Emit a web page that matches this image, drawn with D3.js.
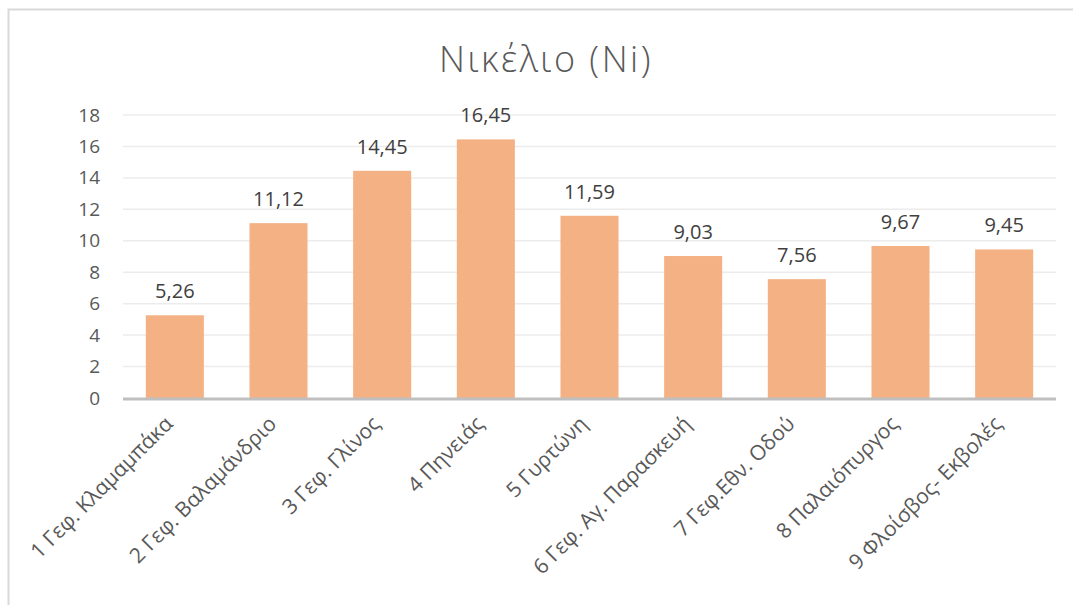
<!DOCTYPE html>
<html>
<head>
<meta charset="utf-8">
<script src="https://cdn.jsdelivr.net/npm/d3@7"></script>
<style>
  body { margin: 0; background: #fff; }
  text { font-family: "Open Sans", "Noto Sans", sans-serif; }
</style>
</head>
<body>
<div id="chart"></div>
<script>
const stations = [
    "1 Γεφ. Κλαμαμπάκα",
    "2 Γεφ. Βαλαμάνδριο",
    "3 Γεφ. Γλίνος",
    "4 Πηνειάς",
    "5 Γυρτώνη",
    "6 Γεφ. Αγ. Παρασκευή",
    "7 Γεφ.Εθν. Οδού",
    "8 Παλαιόπυργος",
    "9 Φλοίσβος- Εκβολές"
];
const nickel = [5.26, 11.12, 14.45, 16.45, 11.59, 9.03, 7.56, 9.67, 9.45];
const yTicks = [0, 2, 4, 6, 8, 10, 12, 14, 16, 18];

const W = 1073, H = 605;
const margin = { top: 115, right: 17, bottom: 207, left: 123 };
const width = W - margin.left - margin.right;
const height = H - margin.top - margin.bottom;

const svg = d3.select("#chart").append("svg")
    .attr("width", W)
    .attr("height", H);

// chart frame
svg.append("rect")
    .attr("x", 8.5).attr("y", 9.5)
    .attr("width", W).attr("height", H)
    .attr("fill", "none")
    .attr("stroke", "#d9d9d9")
    .attr("stroke-width", 2);

svg.append("text")
    .attr("x", 546).attr("y", 72)
    .attr("text-anchor", "middle")
    .attr("fill", "#595959")
    .style("font-size", "36px")
    .style("font-weight", 300)
    .style("letter-spacing", "2.5px")
    .text("Νικέλιο (Ni)");

const g = svg.append("g")
    .attr("transform", `translate(${margin.left},${margin.top})`);

const x = d3.scaleBand()
    .domain(stations)
    .range([0, width])
    .paddingInner(0.44)
    .paddingOuter(0.22);

const y = d3.scaleLinear()
    .domain([0, 18])
    .range([height, 0]);

// gridlines
g.append("g")
    .selectAll("line")
    .data(yTicks.slice(1))
    .join("line")
    .attr("x1", 0).attr("x2", width)
    .attr("y1", d => y(d)).attr("y2", d => y(d))
    .attr("stroke", "#ececec")
    .attr("stroke-width", 1.5);

const yAxis = g.append("g")
    .call(d3.axisLeft(y).tickValues(yTicks).tickSize(0).tickPadding(23));
yAxis.select(".domain").remove();
yAxis.selectAll("text")
    .attr("fill", "#595959")
    .style("font-size", "19px");

g.selectAll("rect.bar")
    .data(nickel)
    .join("rect")
    .attr("class", "bar")
    .attr("x", (d, i) => x(stations[i]))
    .attr("y", d => y(d))
    .attr("width", x.bandwidth())
    .attr("height", d => height - y(d))
    .attr("fill", "#f4b183");

g.selectAll("text.val")
    .data(nickel)
    .join("text")
    .attr("class", "val")
    .attr("x", (d, i) => x(stations[i]) + x.bandwidth() / 2)
    .attr("y", d => y(d) - 17)
    .attr("text-anchor", "middle")
    .attr("fill", "#404040")
    .style("font-size", "20px")
    .text(d => d.toFixed(2).replace(".", ","));

// baseline
g.append("line")
    .attr("x1", 0).attr("x2", width)
    .attr("y1", height + 1).attr("y2", height + 1)
    .attr("stroke", "#bfbfbf")
    .attr("stroke-width", 3);

const xAxis = g.append("g")
    .attr("transform", `translate(0,${height})`)
    .call(d3.axisBottom(x).tickSize(0));
xAxis.select(".domain").remove();
xAxis.selectAll("text")
    .attr("fill", "#595959")
    .style("font-size", "21px")
    .attr("text-anchor", "end")
    .attr("dy", 0)
    .attr("transform", "translate(-3,25) rotate(-45)");
</script>
</body>
</html>
